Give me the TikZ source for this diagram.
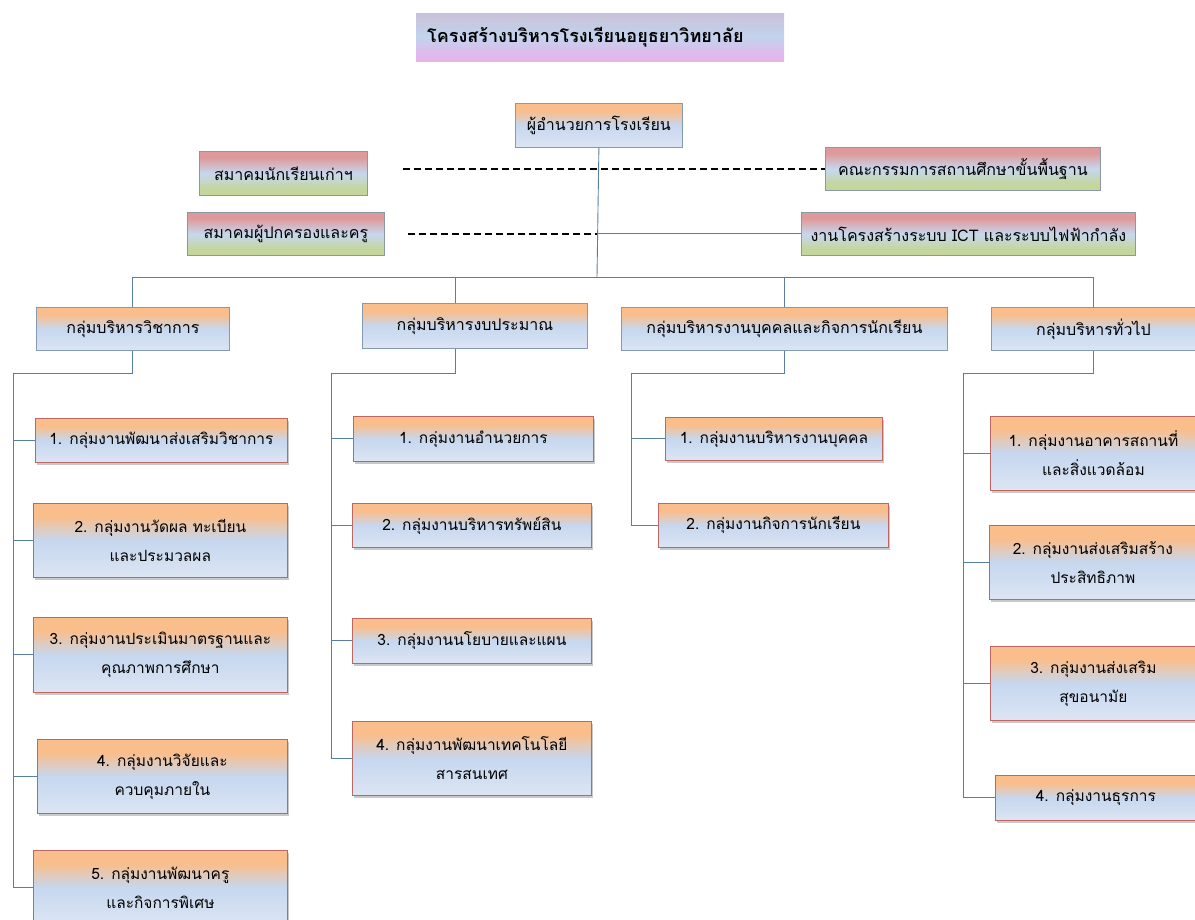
\documentclass[tikz,border=0pt]{standalone}
\usepackage{fontspec}
\setmainfont[Script=Thai]{Loma}
\usetikzlibrary{shadows}

\definecolor{orgtop}{HTML}{F9BE8C}
\definecolor{bluemid}{HTML}{C6D7EF}
\definecolor{bluelow}{HTML}{DCE5F3}
\definecolor{redtop}{HTML}{DE9A9A}
\definecolor{greenlow}{HTML}{C4D69C}
\definecolor{lilactop}{HTML}{C9C1D9}
\definecolor{lilacmid}{HTML}{C3D3EE}
\definecolor{lilaclow}{HTML}{E3B6EC}
\definecolor{lineblue}{HTML}{5A7EA2}
\definecolor{headedge}{HTML}{8499B4}
\definecolor{subedge}{HTML}{BE6662}
\definecolor{sideedge}{HTML}{8A98A6}

\pgfdeclareverticalshading{orgblue}{100bp}{color(0bp)=(bluelow); color(25bp)=(bluelow); color(50bp)=(bluemid); color(66bp)=(orgtop); color(100bp)=(orgtop)}
\pgfdeclareverticalshading{redgreen}{100bp}{color(0bp)=(greenlow); color(32bp)=(greenlow); color(50bp)=(bluemid); color(68bp)=(redtop); color(100bp)=(redtop)}
\pgfdeclareverticalshading{lilac}{100bp}{color(0bp)=(lilaclow); color(30bp)=(lilaclow); color(50bp)=(lilacmid); color(75bp)=(lilactop); color(100bp)=(lilactop)}

\tikzset{
	headbox/.style={draw=headedge, line width=0.8pt, shade, shading=orgblue, anchor=north west, align=center, inner sep=2pt, font=\fontsize{16}{29}\selectfont},
	subbox/.style={headbox, draw=subedge, font=\fontsize{15.5}{29}\selectfont, drop shadow={shadow xshift=2pt, shadow yshift=-2.5pt, opacity=0.3, fill=black!70}},
	sidebox/.style={headbox, draw=sideedge, shading=redgreen},
	conn/.style={draw=lineblue, line width=0.9pt},
	dashline/.style={draw=black, line width=1.5pt, dash pattern=on 7pt off 4pt},
}

\begin{document}
\begin{tikzpicture}[x=1pt, y=-1pt]
			%%%%% START %%%%%
			\useasboundingbox (0,0) rectangle (1195,920);
			\clip (0,0) rectangle (1195,920);
			
			\node[anchor=north west, shade, shading=lilac, minimum height=48pt, text width=346pt, inner xsep=11pt, align=left, font=\fontsize{18}{22}\bfseries\selectfont] (title) at (416,13) {โครงสร้างบริหารโรงเรียนอยุธยาวิทยาลัย};
			
			\node[headbox, minimum width=167pt, minimum height=44pt] (boss) at (515,103) {ผู้อำนวยการโรงเรียน};
			
			\node[sidebox, minimum width=168pt, minimum height=44pt] (alumni) at (199,151) {สมาคมนักเรียนเก่าฯ};
			\node[sidebox, minimum width=197pt, minimum height=43pt] (parents) at (187,212) {สมาคมผู้ปกครองและครู};
			\node[sidebox, minimum width=275pt, minimum height=43pt] (board) at (825,147) {คณะกรรมการสถานศึกษาขั้นพื้นฐาน};
			\node[sidebox, minimum width=334pt, minimum height=43pt] (ict) at (801,212) {งานโครงสร้างระบบ ICT และระบบไฟฟ้ากำลัง};
			
			\node[headbox, minimum width=193pt, minimum height=43pt] (g1) at (36,307) {กลุ่มบริหารวิชาการ};
			\node[headbox, minimum width=225pt, minimum height=45pt] (g2) at (362,303) {กลุ่มบริหารงบประมาณ};
			\node[headbox, minimum width=326pt, minimum height=43pt] (g3) at (621,307) {กลุ่มบริหารงานบุคคลและกิจการนักเรียน};
			\node[headbox, minimum width=204pt, minimum height=43pt] (g4) at (991,307) {กลุ่มบริหารทั่วไป};
			
			% trunk and bar
			\coordinate (hub) at (597,277);
			\draw[conn] (boss.south) -- (hub);
			\draw[conn] (g1.north) |- (hub);
			\draw[conn] ([xshift=-19pt]g2.north) |- (hub);
			\draw[conn] (g3.north) |- (hub);
			\draw[conn] (g4.north) |- (hub);
			\draw[conn] (ict.west) -- (ict.west -| hub);
			
			\draw[dashline] ([xshift=35pt]alumni.east |- board.west) -- (board.west);
			\draw[dashline] ([xshift=23pt]parents.east) -- (parents.east -| hub);
			
			% group 1
			\node[subbox, minimum width=252pt, minimum height=44pt] (a1) at (35,418) {1. กลุ่มงานพัฒนาส่งเสริมวิชาการ};
			\node[subbox, minimum width=254pt, minimum height=74pt] (a2) at (33,503) {2. กลุ่มงานวัดผล ทะเบียน\\และประมวลผล};
			\node[subbox, minimum width=254pt, minimum height=75pt] (a3) at (33,617) {3. กลุ่มงานประเมินมาตรฐานและ\\คุณภาพการศึกษา};
			\node[subbox, minimum width=250pt, minimum height=74pt] (a4) at (37,739) {4. กลุ่มงานวิจัยและ\\ควบคุมภายใน};
			\node[subbox, minimum width=254pt, minimum height=74pt] (a5) at (33,850) {5. กลุ่มงานพัฒนาครู\\และกิจการพิเศษ};
			
			\coordinate (s1) at (13,373);
			\draw[conn] (g1.south) |- (s1) -- (s1 |- a5.west);
			\foreach \i in {1,...,5}
				\draw[conn] (a\i.west) -- (a\i.west -| s1);
			
			% group 2
			\node[subbox, minimum width=240pt, minimum height=45pt] (b1) at (353,416) {1. กลุ่มงานอำนวยการ};
			\node[subbox, minimum width=239pt, minimum height=44pt] (b2) at (352,503) {2. กลุ่มงานบริหารทรัพย์สิน};
			\node[subbox, minimum width=239pt, minimum height=45pt] (b3) at (352,618) {3. กลุ่มงานนโยบายและแผน};
			\node[subbox, minimum width=239pt, minimum height=74pt] (b4) at (352,721) {4. กลุ่มงานพัฒนาเทคโนโลยี\\สารสนเทศ};
			
			\coordinate (s2) at (331,373);
			\draw[conn] ([xshift=-19pt]g2.south) |- (s2) -- (s2 |- b4.west);
			\foreach \i in {1,...,4}
				\draw[conn] (b\i.west) -- (b\i.west -| s2);
			
			% group 3
			\node[subbox, minimum width=217pt, minimum height=43pt] (c1) at (665,417) {1. กลุ่มงานบริหารงานบุคคล};
			\node[subbox, minimum width=230pt, minimum height=44pt] (c2) at (658,503) {2. กลุ่มงานกิจการนักเรียน};
			
			\coordinate (s3) at (631,373);
			\draw[conn] (g3.south) |- (s3) -- (s3 |- c2.west);
			\foreach \i in {1,2}
				\draw[conn] (c\i.west) -- (c\i.west -| s3);
			
			% group 4
			\node[subbox, minimum width=206pt, minimum height=74pt] (d1) at (990,416) {1. กลุ่มงานอาคารสถานที่\\และสิ่งแวดล้อม};
			\node[subbox, minimum width=207pt, minimum height=74pt] (d2) at (989,525) {2. กลุ่มงานส่งเสริมสร้าง\\ประสิทธิภาพ};
			\node[subbox, minimum width=206pt, minimum height=74pt] (d3) at (990,646) {3. กลุ่มงานส่งเสริม\\สุขอนามัย};
			\node[subbox, minimum width=201pt, minimum height=45pt] (d4) at (995,775) {4. กลุ่มงานธุรการ};
			
			\coordinate (s4) at (963,373);
			\draw[conn] (g4.south) |- (s4) -- (s4 |- d4.west);
			\foreach \i in {1,...,4}
				\draw[conn] (d\i.west) -- (d\i.west -| s4);
			
			%%%%% END %%%%%
\end{tikzpicture}
\end{document}
